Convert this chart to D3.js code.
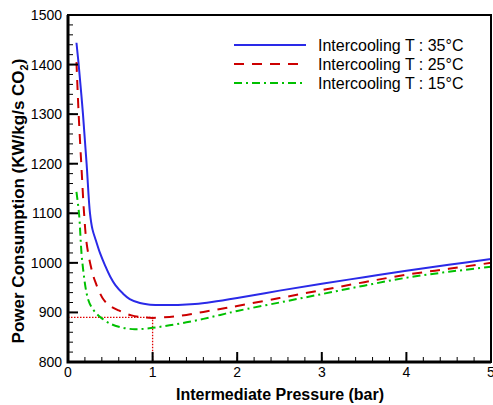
<!DOCTYPE html>
<meta charset="utf-8">
<script src="https://d3js.org/d3.v7.min.js"></script>
<style>
  body { margin: 0; background: #fff; }
  text { font-family: "Liberation Sans", Arial, sans-serif; fill: #000; }
</style>
<div id="my_dataviz"></div>
<script>
// values
var pressure35 = [0.1, 0.126, 0.177, 0.22, 0.26, 0.29, 0.33, 0.38, 0.44, 0.5, 0.56, 0.65, 0.73, 0.85, 0.95, 1.1, 1.3, 1.5, 1.7, 2.0, 2.5, 3.0, 3.5, 4.0, 4.5, 5.0];
var power35    = [1444, 1400, 1300, 1200, 1100, 1067, 1045, 1019, 994, 972, 955, 938, 927, 919, 916, 915, 915, 917, 921, 929, 944, 958, 971, 984, 996, 1008];

var pressure25 = [0.1, 0.126, 0.16, 0.19, 0.22, 0.27, 0.32, 0.42, 0.5, 0.6, 0.75, 0.9, 1.0, 1.2, 1.4, 1.6, 1.8, 2.0, 2.5, 3.0, 3.5, 4.0, 4.5, 5.0];
var power25    = [1405, 1300, 1190, 1100, 1040, 993, 963, 926, 913, 904, 894, 890, 889, 891, 895, 901, 907, 913, 929, 945, 961, 976, 988, 1000];

var pressure15 = [0.1, 0.13, 0.17, 0.24, 0.3, 0.38, 0.48, 0.6, 0.79, 1.0, 1.2, 1.4, 1.6, 1.8, 2.0, 2.5, 3.0, 3.5, 4.0, 4.5, 5.0];
var power15    = [1143, 1100, 1000, 925, 905, 891, 879, 871, 866, 869, 874, 880, 887, 895, 903, 920, 937, 954, 970, 982, 992];

var seriesNames = ["Intercooling T : 35°C", "Intercooling T : 25°C", "Intercooling T : 15°C"];
var xTicks = [0, 1, 2, 3, 4, 5];
var yTicks = [800, 900, 1000, 1100, 1200, 1300, 1400, 1500];
var optimum = {p: 1.0, w: 890};

var width = 493, height = 405;
var margin = {top: 15, right: 2, bottom: 43, left: 68};

var svg = d3.select("#my_dataviz")
  .append("svg")
    .attr("width", width)
    .attr("height", height);

var x = d3.scaleLinear().domain([0, 5]).range([margin.left, width - margin.right]);
var y = d3.scaleLinear().domain([800, 1500]).range([height - margin.bottom, margin.top]);

// dotted guide lines at the optimum
svg.append("path")
  .attr("d", "M" + x(0) + "," + y(optimum.w) + "H" + x(optimum.p) + "V" + y(800))
  .style("fill", "none")
  .attr("stroke", "#e00000")
  .attr("stroke-width", 1.3)
  .attr("stroke-dasharray", "1.5,1.5");

// curves
var series = [
  {name: seriesNames[0], xs: pressure35, ys: power35, color: "#2a2ae8", dash: null},
  {name: seriesNames[1], xs: pressure25, ys: power25, color: "#cc0000", dash: "10,8"},
  {name: seriesNames[2], xs: pressure15, ys: power15, color: "#00c000", dash: "8,4,2,4"}
];

var line = d3.line()
  .x(function(d){ return x(d[0]) })
  .y(function(d){ return y(d[1]) })
  .curve(d3.curveCatmullRom.alpha(0.5));

series.forEach(function(s) {
  svg.append("path")
    .datum(d3.zip(s.xs, s.ys))
    .attr("d", line)
    .style("fill", "none")
    .attr("stroke", s.color)
    .attr("stroke-width", 2)
    .attr("stroke-dasharray", s.dash);
});

// minor + major ticks pointing inside
var xMinor = d3.range(0, 5.001, 0.2);
var yMinor = d3.range(800, 1500.1, 20);
svg.selectAll("xminor").data(xMinor).enter().append("line")
  .attr("x1", function(d){ return x(d) }).attr("x2", function(d){ return x(d) })
  .attr("y1", y(800)).attr("y2", y(800) - 5)
  .attr("stroke", "#000").attr("stroke-width", 1);
svg.selectAll("yminor").data(yMinor).enter().append("line")
  .attr("y1", function(d){ return y(d) }).attr("y2", function(d){ return y(d) })
  .attr("x1", x(0)).attr("x2", x(0) + 5)
  .attr("stroke", "#000").attr("stroke-width", 1);
svg.selectAll("xmajor").data(xTicks).enter().append("line")
  .attr("x1", function(d){ return x(d) }).attr("x2", function(d){ return x(d) })
  .attr("y1", y(800)).attr("y2", y(800) - 10)
  .attr("stroke", "#000").attr("stroke-width", 2);
svg.selectAll("ymajor").data(yTicks).enter().append("line")
  .attr("y1", function(d){ return y(d) }).attr("y2", function(d){ return y(d) })
  .attr("x1", x(0)).attr("x2", x(0) + 10)
  .attr("stroke", "#000").attr("stroke-width", 2);

// frame
svg.append("rect")
  .attr("x", x(0)).attr("y", y(1500))
  .attr("width", x(5) - x(0)).attr("height", y(800) - y(1500))
  .style("fill", "none").attr("stroke", "#000").attr("stroke-width", 2);
svg.append("path")
  .attr("d", "M" + x(0) + "," + y(1500) + "V" + y(800) + "H" + x(5))
  .style("fill", "none").attr("stroke", "#000").attr("stroke-width", 3);

// tick labels (the last one is clipped by the edge, as in the original)
svg.selectAll("xlab").data(xTicks).enter().append("text")
  .attr("x", function(d){ return x(d) })
  .attr("y", y(800) + 15)
  .style("text-anchor", "middle")
  .style("font-size", "14px")
  .text(function(d){ return d });
svg.selectAll("ylab").data(yTicks).enter().append("text")
  .attr("x", x(0) - 6)
  .attr("y", function(d){ return y(d) + 5 })
  .style("text-anchor", "end")
  .style("font-size", "14px")
  .text(function(d){ return d });

// axis titles
svg.append("text")
  .attr("x", 280).attr("y", 400)
  .style("text-anchor", "middle")
  .style("font-size", "16px").style("font-weight", "bold")
  .text("Intermediate Pressure (bar)");

var yt = svg.append("text")
  .attr("transform", "translate(24,201)rotate(-90)")
  .style("text-anchor", "middle")
  .style("font-size", "17px").style("font-weight", "bold");
yt.append("tspan").text("Power Consumption (KW/kg/s CO");
yt.append("tspan").attr("dy", 4).style("font-size", "11px").text("2");
yt.append("tspan").attr("dy", -4).text(")");

// legend
var legendY = [45, 64, 83];
series.forEach(function(s, i) {
  svg.append("line")
    .attr("x1", 234).attr("x2", 306)
    .attr("y1", legendY[i]).attr("y2", legendY[i])
    .attr("stroke", s.color).attr("stroke-width", 2)
    .attr("stroke-dasharray", s.dash);
  svg.append("text")
    .attr("x", 318).attr("y", legendY[i] + 6)
    .style("font-size", "16px")
    .text(s.name);
});
</script>
